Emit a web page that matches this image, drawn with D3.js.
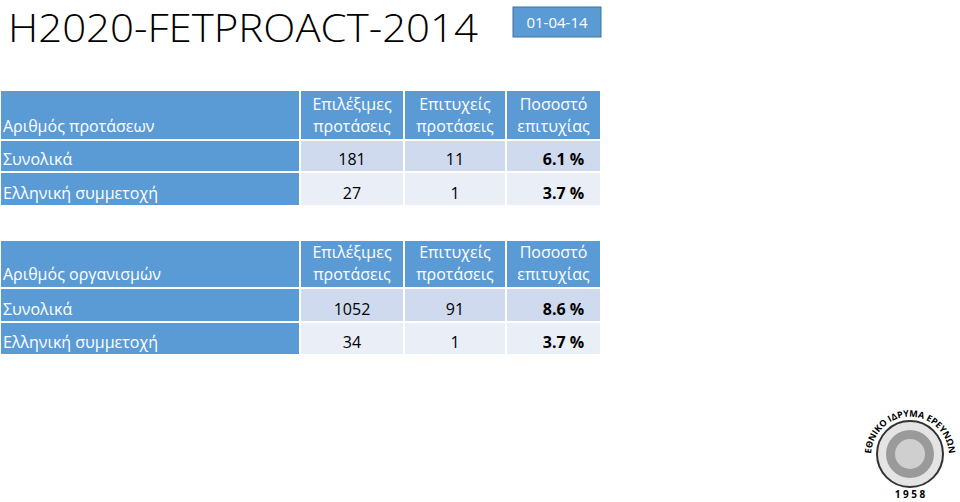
<!DOCTYPE html><html><head><meta charset="utf-8"><script src="https://d3js.org/d3.v7.min.js"></script>
<style>body{margin:0;background:#fff}</style></head><body><svg id="c" width="960" height="502"></svg>
<script>
const title="H2020-FETPROACT-2014", dateLabel="01-04-14";
const headers=["Επιλέξιμες\nπροτάσεις","Επιτυχείς\nπροτάσεις","Ποσοστό\nεπιτυχίας"];
const rowLabels=["Συνολικά","Ελληνική συμμετοχή"];
const table1Title="Αριθμός προτάσεων", table1Values=[[181,11,"6.1 %"],[27,1,"3.7 %"]];
const table2Title="Αριθμός οργανισμών", table2Values=[[1052,91,"8.6 %"],[34,1,"3.7 %"]];
const svg=d3.select("#c"), F="'Open Sans',sans-serif", blue="#5b9bd5";
svg.append("text").attr("x",8).attr("y",42).attr("font-family",F).attr("font-size",38).attr("font-weight",300).attr("textLength",470).attr("lengthAdjust","spacingAndGlyphs").text(title);
svg.append("rect").attr("x",513).attr("y",7).attr("width",88).attr("height",30).attr("fill",blue).attr("stroke","#41719c");
svg.append("text").attr("x",557).attr("y",28).attr("text-anchor","middle").attr("fill","#fff").attr("font-family",F).attr("font-size",15).text(dateLabel);
const colX=d3.scaleOrdinal().domain([0,1,2,3]).range([0,300,404,506]);
const colW=[300,104,102,95];
function table(y0,hh,rh,ttl,vals){
  const g=svg.append("g").attr("font-family",F);
  const rows=[{h:hh,y:y0,header:true}];
  rh.forEach((h,i)=>rows.push({h,y:rows[i].y+rows[i].h,i}));
  rows.forEach((r,ri)=>{
    for(let c=0;c<4;c++){
      const fill=r.header||c==0?blue:(ri==1?"#cfdaee":"#e9eef7");
      g.append("rect").attr("x",colX(c)).attr("y",r.y).attr("width",colW[c]).attr("height",r.h).attr("fill",fill).attr("stroke","#fff").attr("stroke-width",2);
      const cx=colX(c)+colW[c]/2;
      if(r.header){
        if(c==0) g.append("text").attr("x",3).attr("y",r.y+r.h-8).attr("fill","#fff").attr("font-size",16).text(ttl);
        else headers[c-1].split("\n").forEach((t,k)=>g.append("text").attr("x",cx).attr("y",r.y+r.h-30+k*22).attr("text-anchor","middle").attr("fill","#fff").attr("font-size",16).text(t));
      } else {
        if(c==0) g.append("text").attr("x",3).attr("y",r.y+r.h-7).attr("fill","#fff").attr("font-size",16).text(rowLabels[r.i]);
        else g.append("text").attr("x",cx+(c==3?10:0)).attr("y",r.y+r.h-7).attr("text-anchor","middle").attr("fill","#000").attr("font-size",16).attr("font-weight",c==3?"bold":null).text(vals[r.i][c-1]);
      }
    }
  });
}
table(90,50,[32,34],table1Title,table1Values);
table(240,48,[34,33],table2Title,table2Values);
// logo
const lg=svg.append("g").attr("transform","translate(910,454)");
lg.append("circle").attr("r",33).attr("fill","#e4e4e4").attr("stroke","#333").attr("stroke-width",2);
lg.append("circle").attr("r",24).attr("fill","#9a9a9a");
lg.append("circle").attr("r",15).attr("fill","#cfcfcf");
lg.append("path").attr("id","arc").attr("d","M-37,14 A39,39 0 1,1 37,14").attr("fill","none");
lg.append("text").attr("font-family",F).attr("font-size",9).attr("font-weight","bold").append("textPath").attr("href","#arc").attr("startOffset","50%").attr("text-anchor","middle").text("ΕΘΝΙΚΟ ΙΔΡΥΜΑ ΕΡΕΥΝΩΝ");
lg.append("text").attr("y",44).attr("text-anchor","middle").attr("font-family",F).attr("font-size",10).attr("font-weight","bold").text("1 9 5 8");
</script></body></html>
